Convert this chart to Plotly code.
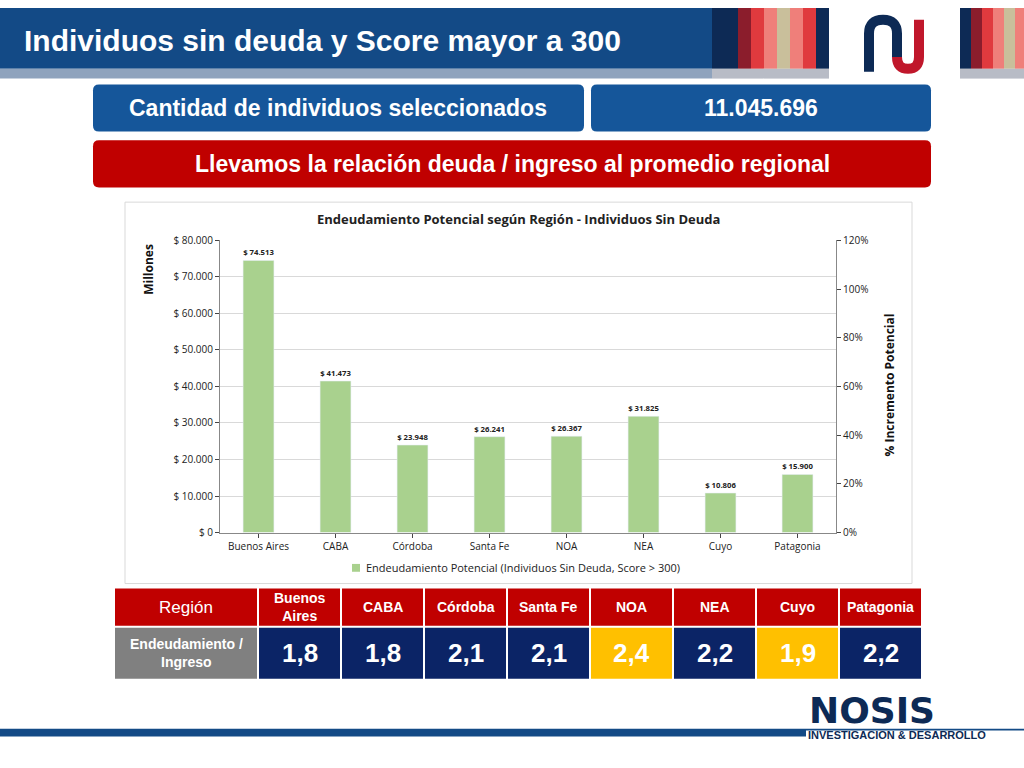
import plotly.graph_objects as go

# data
regions = ["Buenos Aires", "CABA", "Córdoba", "Santa Fe", "NOA", "NEA", "Cuyo", "Patagonia"]
potential = [74513, 41473, 23948, 26241, 26367, 31825, 10806, 15900]
bar_labels = ["$ 74.513", "$ 41.473", "$ 23.948", "$ 26.241", "$ 26.367", "$ 31.825", "$ 10.806", "$ 15.900"]
y_ticks = [0, 10000, 20000, 30000, 40000, 50000, 60000, 70000, 80000]
y_ticktext = ["$ 0", "$ 10.000", "$ 20.000", "$ 30.000", "$ 40.000", "$ 50.000", "$ 60.000", "$ 70.000", "$ 80.000"]
y2_ticks = [0, 20, 40, 60, 80, 100, 120]
y2_ticktext = ["0%", "20%", "40%", "60%", "80%", "100%", "120%"]
table_regions = ["Buenos<br>Aires", "CABA", "Córdoba", "Santa Fe", "NOA", "NEA", "Cuyo", "Patagonia"]
ratio = ["1,8", "1,8", "2,1", "2,1", "2,4", "2,2", "1,9", "2,2"]
highlight = [False, False, False, False, True, False, True, False]

W, H = 1024, 768
FONT = "Liberation Sans"


def px(x):
    return x / W


def py(y):
    return 1 - y / H


shapes = []
annotations = []


def rect(x0, y0, x1, y1, color, line=None):
    shapes.append(dict(type="rect", xref="paper", yref="paper", x0=px(x0), x1=px(x1),
                       y0=py(y1), y1=py(y0), fillcolor=color, layer="below",
                       line=dict(width=1 if line else 0, color=line or color)))


def rrect(x0, y0, x1, y1, color, r=6):
    path = (f"M {px(x0 + r)},{py(y0)} L {px(x1 - r)},{py(y0)} Q {px(x1)},{py(y0)} {px(x1)},{py(y0 + r)} "
            f"L {px(x1)},{py(y1 - r)} Q {px(x1)},{py(y1)} {px(x1 - r)},{py(y1)} "
            f"L {px(x0 + r)},{py(y1)} Q {px(x0)},{py(y1)} {px(x0)},{py(y1 - r)} "
            f"L {px(x0)},{py(y0 + r)} Q {px(x0)},{py(y0)} {px(x0 + r)},{py(y0)} Z")
    shapes.append(dict(type="path", xref="paper", yref="paper", path=path, fillcolor=color,
                       line=dict(width=0), layer="below"))


def text(x, y, s, size, color="white", bold=True, xanchor="center", family=FONT, angle=0):
    annotations.append(dict(xref="paper", yref="paper", x=px(x), y=py(y), text=f"<b>{s}</b>" if bold else s,
                            showarrow=False, xanchor=xanchor, yanchor="middle", textangle=angle,
                            font=dict(size=size, color=color, family=family)))


# header
rect(0, 0, 712, 62, "#134a86")
rect(0, 62, 712, 72, "#8fa3bd")
stripes = ["#0d2a55", "#0d2a55", "#8b1d2c", "#e03a3e", "#ef7f7a", "#c9bf9b", "#ef7f7a", "#e03a3e", "#0d2a55"]
for i, c in enumerate(stripes):
    rect(712 + i * 13, 0, 725 + i * 13, 62, c)
    rect(712 + i * 13, 62, 725 + i * 13, 72, "#b8bcc6")
stripes2 = ["#0d2a55", "#8b1d2c", "#e03a3e", "#ef7f7a", "#c9bf9b", "#ef7f7a"]
for i, c in enumerate(stripes2):
    rect(960 + i * 11, 0, 971 + i * 11, 62, c)
    rect(960 + i * 11, 62, 971 + i * 11, 72, "#b8bcc6")
# NU logo
shapes.append(dict(type="path", xref="paper", yref="paper",
                   path=f"M {px(869)},{py(65)} L {px(869)},{py(26)} Q {px(869)},{py(12)} {px(883)},{py(12)} "
                        f"Q {px(897)},{py(12)} {px(897)},{py(26)} L {px(897)},{py(50)}",
                   line=dict(color="#0d2a55", width=10)))
shapes.append(dict(type="path", xref="paper", yref="paper",
                   path=f"M {px(897)},{py(50)} Q {px(897)},{py(62)} {px(908)},{py(62)} "
                        f"Q {px(919)},{py(62)} {px(919)},{py(50)} L {px(919)},{py(12)}",
                   line=dict(color="#c0172b", width=10)))
text(22, 33, "Individuos sin deuda y Score mayor a 300", 30, xanchor="left")

# banners
rrect(93, 78, 584, 126, "#15569a")
rrect(591, 78, 931, 126, "#15569a")
rrect(93, 135, 931, 183, "#c00000")
text(338, 102, "Cantidad de individuos seleccionados", 23)
text(761, 102, "11.045.696", 23)
text(512, 159, "Llevamos la relación deuda / ingreso al promedio regional", 23)

# chart frame
rect(125, 198, 912, 587, "white", line="#d9d9d9")
text(518, 215, "Endeudamiento Potencial según Región - Individuos Sin Deuda", 13, color="#222", family="Open Sans")
text(149, 267, "Millones", 12, color="#111", family="Open Sans", angle=-90)
text(889, 385, "% Incremento Potencial", 12, color="#111", family="Open Sans", angle=-90)
rect(352, 567, 360, 575, "#a9d18e")
text(364, 571, "Endeudamiento Potencial (Individuos Sin Deuda, Score > 300)", 11, color="#222", bold=False,
     xanchor="left", family="Open Sans")

# table
rect(115, 592, 257, 630, "#c00000")
text(186, 611, "Región", 17, bold=False)
rect(115, 632, 257, 684, "#808080")
text(186, 658, "Endeudamiento /<br>Ingreso", 14)
cw = 83
for i, (r, v, hl) in enumerate(zip(table_regions, ratio, highlight)):
    x0 = 259 + i * cw
    rect(x0, 592, x0 + cw - 2, 630, "#c00000")
    text(x0 + cw / 2 - 1, 611, r, 14)
    rect(x0, 632, x0 + cw - 2, 684, "#ffc000" if hl else "#0b2466")
    text(x0 + cw / 2 - 1, 658, v, 26)

# footer
rect(0, 735, 806, 743, "#134a86")
rect(806, 735, 1024, 737, "#134a86")
text(872, 716, "NOSIS", 36, color="#0d2a55", family="DejaVu Sans")
text(897, 741, "INVESTIGACION &amp; DESARROLLO", 11, color="#0d2a55")

fig = go.Figure()
fig.add_trace(go.Bar(x=regions, y=potential, marker_color="#a9d18e", width=0.4,
                     text=bar_labels, textposition="outside", cliponaxis=False,
                     texttemplate="<b>%{text}</b>",
                     textfont=dict(size=11, color="#222", family="Open Sans"), showlegend=False))
fig.add_trace(go.Scatter(x=regions, y=[None] * len(regions), yaxis="y2", showlegend=False))

fig.update_layout(
    width=W, height=H, margin=dict(l=0, r=0, t=0, b=0),
    paper_bgcolor="white", plot_bgcolor="white",
    font=dict(family="Open Sans", size=10, color="#222"),
    xaxis=dict(domain=[px(220), px(836)], showline=True, linecolor="#888", ticks="outside", ticklen=4),
    yaxis=dict(domain=[py(535), py(237)], range=[0, 80000], tickvals=y_ticks, ticktext=y_ticktext,
               showgrid=True, gridcolor="#d9d9d9", showline=True, linecolor="#888", ticks="outside", ticklen=4,
               zeroline=False),
    yaxis2=dict(overlaying="y", side="right", range=[0, 120], tickvals=y2_ticks, ticktext=y2_ticktext,
                showgrid=False, showline=True, linecolor="#888", ticks="outside", ticklen=4),
    shapes=shapes, annotations=annotations,
)
fig.write_html("out.html", config={"displayModeBar": False})

# pin the figure to the window corner with no page margin
with open("out.html") as fh:
    html = fh.read()
html = html.replace("<head>", "<head><style>html,body{margin:0;padding:0;overflow:hidden}"
                    ".plotly-graph-div{position:absolute;top:0;left:0}</style>", 1)
with open("out.html", "w") as fh:
    fh.write(html)
